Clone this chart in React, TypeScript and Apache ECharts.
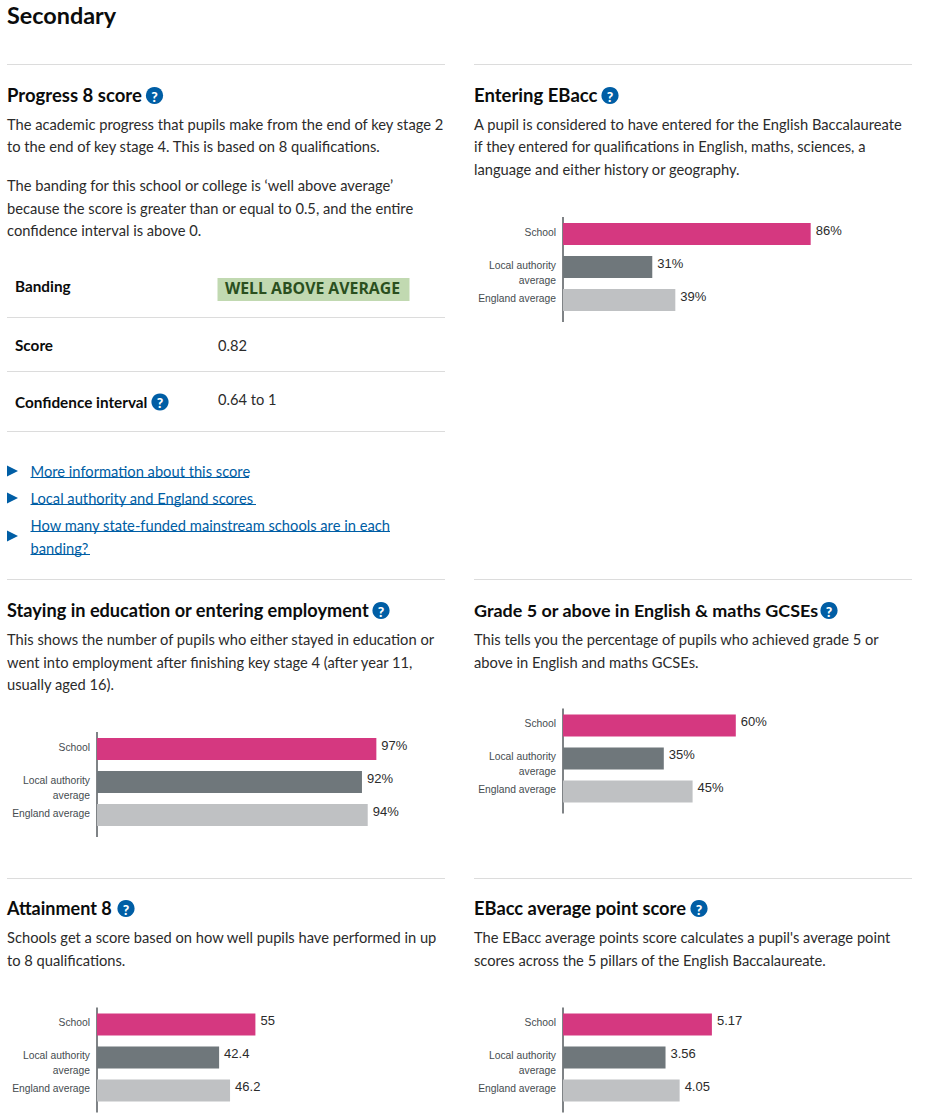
import React, { useEffect, useRef } from "react";
import * as echarts from "echarts";

const categories = ["School", "Local authority\naverage", "England average"];
const barColors = ["#d53880", "#6f777b", "#bfc1c3"];

const eBaccEntry = [86, 31, 39];
const stayingInEducation = [97, 92, 94];
const grade5EnglishMaths = [60, 35, 45];
const attainment8 = [55, 42.4, 46.2];
const eBaccPointScore = [5.17, 3.56, 4.05];

const charts = [
  { values: eBaccEntry, max: 100, suffix: "%", left: 563, top: 217.5 },
  { values: stayingInEducation, max: 100, suffix: "%", left: 97, top: 732.5 },
  { values: grade5EnglishMaths, max: 100, suffix: "%", left: 563, top: 709 },
  { values: attainment8, max: 100, suffix: "", left: 97, top: 1008 },
  { values: eBaccPointScore, max: 10, suffix: "", left: 563, top: 1008 },
];

const FONT = "Lato, 'Noto Sans', sans-serif";
const BODY = 14.7;
const INK = "#0b0c0c";
const BODY_INK = "#2b2b2b";
const BLUE = "#005ea5";
const RULE = "#dcdcdc";

const headings: [string, number, number, number][] = [
  ["Progress 8 score", 7, 95, 18.5],
  ["Entering EBacc", 474, 95, 18.5],
  ["Staying in education or entering employment", 7, 610, 18.15],
  ["Grade 5 or above in English & maths GCSEs", 474, 610, 17.95],
  ["Attainment 8", 7, 908, 18],
  ["EBacc average point score", 474, 908, 18.3],
];

const bodyLines: [string, number, number][] = [
  ["The academic progress that pupils make from the end of key stage 2", 7, 124],
  ["to the end of key stage 4. This is based on 8 qualifications.", 7, 146],
  ["The banding for this school or college is ‘well above average’", 7, 185],
  ["because the score is greater than or equal to 0.5, and the entire", 7, 208],
  ["confidence interval is above 0.", 7, 230],
  ["A pupil is considered to have entered for the English Baccalaureate", 474, 124],
  ["if they entered for qualifications in English, maths, sciences, a", 474, 146],
  ["language and either history or geography.", 474, 169],
  ["This shows the number of pupils who either stayed in education or", 7, 639],
  ["went into employment after finishing key stage 4 (after year 11,", 7, 662],
  ["usually aged 16).", 7, 684],
  ["This tells you the percentage of pupils who achieved grade 5 or", 474, 639],
  ["above in English and maths GCSEs.", 474, 662],
  ["Schools get a score based on how well pupils have performed in up", 7, 937],
  ["to 8 qualifications.", 7, 960],
  ["The EBacc average points score calculates a pupil's average point", 474, 937],
  ["scores across the 5 pillars of the English Baccalaureate.", 474, 960],
];

const helpIcons: [number, number][] = [
  [154.5, 95.5], [610, 95.5], [381, 610.5], [829, 610.5], [126, 908.5], [699, 908.5], [160, 402],
];

const tableLabels: [string, number][] = [["Banding", 286], ["Score", 345], ["Confidence interval", 402]];
const tableValues: [string, number][] = [["0.82", 345], ["0.64 to 1", 399]];
const tableRules = [318, 372, 432];
const sectionRules = [65, 580, 879];

const links: [string, number, number, number][] = [
  ["More information about this score", 30.5, 471, 249],
  ["Local authority and England scores", 30.5, 498, 256],
  ["How many state-funded mainstream schools are in each", 30.5, 525, 390],
  ["banding?", 30.5, 548, 90],
];
const linkArrows = [471, 498, 536];

const text = (t: string, x: number, y: number, size: number, fill: string, weight: any = "normal", family = FONT) => ({
  type: "text", x, y, silent: true,
  style: { text: t, fontSize: size, fontFamily: family, fontWeight: weight, fill, verticalAlign: "middle", align: "left" },
});
const hline = (x1: number, x2: number, y: number, stroke: string, lineWidth = 1) => ({
  type: "line", silent: true, shape: { x1, y1: y, x2, y2: y }, style: { stroke, lineWidth },
});

function buildGraphics() {
  const g: any[] = [];
  g.push(text("Secondary", 7, 15, 23.4, INK, 700));
  sectionRules.forEach((y) => {
    g.push(hline(7, 445, y - 0.5, RULE));
    g.push(hline(474, 912, y - 0.5, RULE));
  });
  tableRules.forEach((y) => g.push(hline(7, 445, y - 0.5, RULE)));
  headings.forEach(([t, x, y, s]) => g.push(text(t, x, y, s, INK, 700)));
  bodyLines.forEach(([t, x, y]) => g.push(text(t, x, y, BODY, BODY_INK)));
  tableLabels.forEach(([t, y]) => g.push(text(t, 15, y, 15.3, INK, 700)));
  tableValues.forEach(([t, y]) => g.push(text(t, 218, y, 14.65, BODY_INK)));
  g.push({ type: "rect", silent: true, shape: { x: 217.5, y: 278, width: 192, height: 23 }, style: { fill: "#c1d9b1" } });
  g.push(text("WELL ABOVE AVERAGE", 225, 288, 15.8, "#2a4f1e", 700, "'Open Sans', sans-serif"));
  helpIcons.forEach(([cx, cy]) => {
    g.push({ type: "circle", silent: true, shape: { cx, cy, r: 8.6 }, style: { fill: BLUE } });
    g.push({
      type: "text", x: cx, y: cy + 0.5, silent: true,
      style: { text: "?", fontSize: 14, fontFamily: FONT, fontWeight: 900, fill: "#ffffff", align: "center", verticalAlign: "middle" },
    });
  });
  links.forEach(([t, x, y, end]) => {
    g.push(text(t, x, y, BODY, BLUE));
    g.push(hline(x, end, y + 6.5, BLUE));
  });
  linkArrows.forEach((y) =>
    g.push({ type: "polygon", silent: true, shape: { points: [[7, y - 5.5], [18, y], [7, y + 5.5]] }, style: { fill: BLUE } })
  );
  charts.forEach((c) =>
    g.push({
      type: "line", silent: true,
      shape: { x1: c.left, y1: c.top - 0.5, x2: c.left, y2: c.top + 104.5 },
      style: { stroke: "#555a5e", lineWidth: 1.5 },
    })
  );
  return g;
}

function buildOption() {
  return {
    animation: false,
    grid: charts.map((c) => ({ left: c.left, top: c.top, width: 288, height: 99, containLabel: false })),
    xAxis: charts.map((c, i) => ({ type: "value", gridIndex: i, min: 0, max: c.max, show: false })),
    yAxis: charts.map((_, i) => ({
      type: "category", gridIndex: i, inverse: true, data: categories,
      axisLine: { show: false }, axisTick: { show: false }, splitLine: { show: false },
      axisLabel: {
        margin: 7, fontSize: 10.3, lineHeight: 15, color: "#454c50",
        fontFamily: "'Liberation Sans', Arial, sans-serif", align: "right", interval: 0,
        formatter: (v: string) => {
          const parts = v.split("\n");
          return parts.length > 1
            ? parts.map((p) => `{two|${p}}`).join("\n")
            : `{one|${v}}`;
        },
        rich: {
          one: { padding: [0, 0, 4, 0], lineHeight: 15, fontSize: 10.3, color: "#454c50" },
          two: { padding: [11, 0, 0, 0], lineHeight: 15, fontSize: 10.3, color: "#454c50" },
        },
      },
    })),
    series: charts.map((c, i) => ({
      type: "bar", xAxisIndex: i, yAxisIndex: i, barWidth: 22,
      colorBy: "data", color: barColors, data: c.values,
      label: {
        show: true, position: "right", distance: 5, offset: [0, -4],
        formatter: (p: any) => `${p.value}${c.suffix}`,
        fontSize: 13, color: "#2b2b2b", fontFamily: "'Liberation Sans', Arial, sans-serif",
      },
    })),
    graphic: { elements: buildGraphics() },
  };
}

export default function App() {
  const ref = useRef<HTMLDivElement>(null);
  useEffect(() => {
    const chart = echarts.init(ref.current!, undefined, { renderer: "svg" });
    chart.setOption(buildOption() as any);
    return () => chart.dispose();
  }, []);
  return <div ref={ref} style={{ position: "absolute", left: 0, top: 0, width: 931, height: 1115, background: "#fff" }} />;
}
